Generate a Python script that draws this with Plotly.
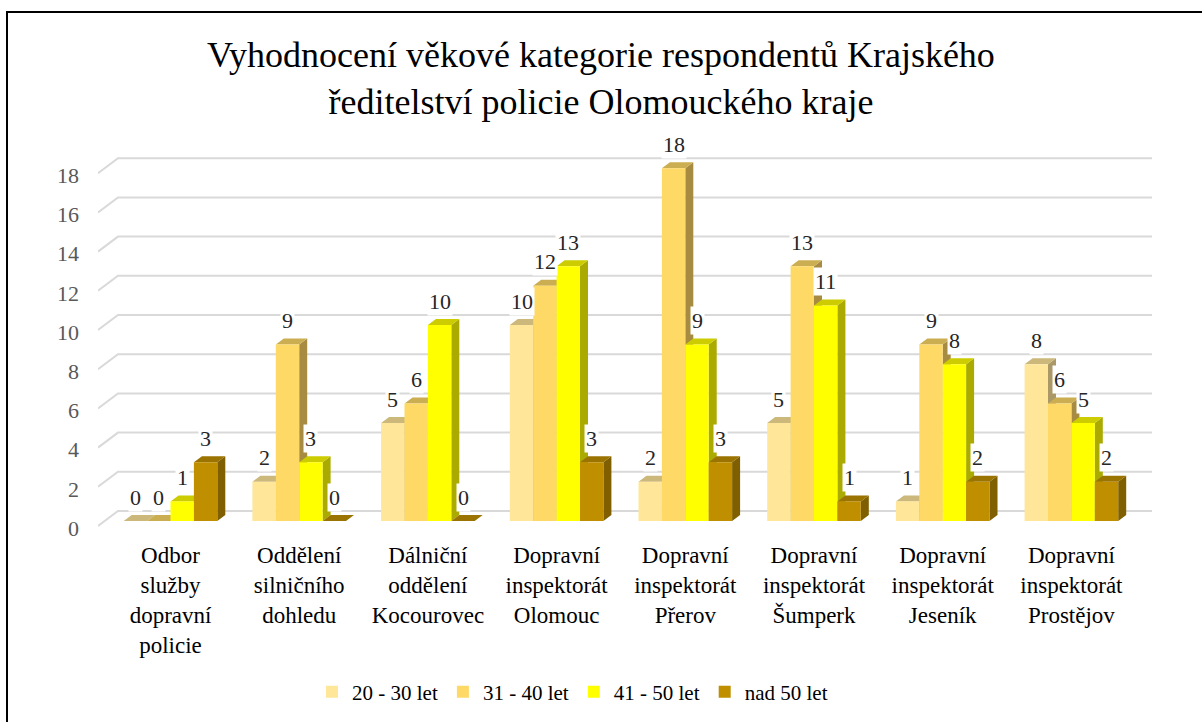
import plotly.graph_objects as go

# ---------------- data ----------------
categories = [
    "Odbor<br>služby<br>dopravní<br>policie",
    "Oddělení<br>silničního<br>dohledu",
    "Dálniční<br>oddělení<br>Kocourovec",
    "Dopravní<br>inspektorát<br>Olomouc",
    "Dopravní<br>inspektorát<br>Přerov",
    "Dopravní<br>inspektorát<br>Šumperk",
    "Dopravní<br>inspektorát<br>Jeseník",
    "Dopravní<br>inspektorát<br>Prostějov",
]
series_names = ["20 - 30 let", "31 - 40 let", "41 - 50 let", "nad 50 let"]
age_20_30 = [0, 2, 5, 10, 2, 5, 1, 8]
age_31_40 = [0, 9, 6, 12, 18, 13, 9, 6]
age_41_50 = [1, 3, 10, 13, 9, 11, 8, 5]
age_over_50 = [3, 0, 0, 3, 3, 1, 2, 2]
series_values = [age_20_30, age_31_40, age_41_50, age_over_50]
y_ticks = [0, 2, 4, 6, 8, 10, 12, 14, 16, 18]

title_text = ("Vyhodnocení věkové kategorie respondentů Krajského<br>"
              "ředitelství policie Olomouckého kraje")

# ---------------- styles ----------------
front_colors = ["#FFE699", "#FFD966", "#FFFF00", "#BF8F00"]
top_colors = ["#CCB87A", "#CCAE52", "#CCCC00", "#9A7300"]
side_colors = ["#AA9966", "#A68B40", "#AAAA00", "#7F5F00"]
FONT = "Liberation Serif, Times New Roman, serif"

W, H = 1202, 722
L, R, T, B = 98, 50, 140, 187          # plot area margins (px)
plot_w = W - L - R
plot_h = H - T - B
px_per_cat = 128.7
first_center_px = 170.5
px_per_unit = 19.6
zero_px = 521

x0 = (L - first_center_px) / px_per_cat
x1 = (W - R - first_center_px) / px_per_cat
y0 = (zero_px - (H - B)) / px_per_unit
y1 = (zero_px - T) / px_per_unit

bar_w = 23.4 / px_per_cat
depth_dx = 8 / px_per_cat
depth_dy = 6 / px_per_unit

fig = go.Figure()

# ---------------- gridlines (3D wall style) ----------------
gx, gy = [], []
grid_back_dx = 20 / px_per_cat
for v in y_ticks:
    gx += [x0, x0 + grid_back_dx, x1, None]
    gy += [v - 5 / px_per_unit, v + 10 / px_per_unit, v + 10 / px_per_unit, None]
fig.add_trace(go.Scatter(x=gx, y=gy, mode="lines",
                         line=dict(color="#D9D9D9", width=2),
                         hoverinfo="skip", showlegend=False))

# ---------------- top and side faces ----------------
for j, vals in enumerate(series_values):
    off = (j - 2) * bar_w
    tx, ty, sx, sy = [], [], [], []
    for i, v in enumerate(vals):
        a = i + off
        b = a + bar_w
        tx += [a, b, b + depth_dx, a + depth_dx, a, None]
        ty += [v, v, v + depth_dy, v + depth_dy, v, None]
        sx += [b, b, b + depth_dx, b + depth_dx, b, None]
        sy += [0, v, v + depth_dy, depth_dy, 0, None]
    fig.add_trace(go.Scatter(x=sx, y=sy, mode="lines", fill="toself",
                             fillcolor=side_colors[j], line=dict(width=0, color=side_colors[j]),
                             hoverinfo="skip", showlegend=False))
    fig.add_trace(go.Scatter(x=tx, y=ty, mode="lines", fill="toself",
                             fillcolor=top_colors[j], line=dict(width=0, color=top_colors[j]),
                             hoverinfo="skip", showlegend=False))

# ---------------- front faces (bars) ----------------
for j, vals in enumerate(series_values):
    fig.add_trace(go.Bar(
        x=list(range(len(categories))), y=vals, name=series_names[j],
        width=bar_w, offset=(j - 2) * bar_w,
        marker=dict(color=front_colors[j], line=dict(width=0)),
        xaxis="x2", yaxis="y2",
    ))

# ---------------- data labels ----------------
for j, vals in enumerate(series_values):
    for i, v in enumerate(vals):
        fig.add_annotation(
            x=i + (j - 1.5) * bar_w, y=v, xref="x", yref="y",
            text=str(v), showarrow=False, yshift=24,
            font=dict(family=FONT, size=22, color="#262626"),
            bgcolor="white", borderpad=1,
        )

# ---------------- frame ----------------
fig.add_shape(type="rect", xref="paper", yref="paper",
              x0=(7 - L) / plot_w, x1=(1215 - L) / plot_w,
              y0=((H - B) - 740) / plot_h, y1=((H - B) - 12) / plot_h,
              line=dict(color="black", width=2), fillcolor="rgba(0,0,0,0)", layer="above")

fig.update_layout(
    width=W, height=H,
    margin=dict(l=L, r=R, t=T, b=B, autoexpand=False),
    paper_bgcolor="white", plot_bgcolor="white",
    barmode="overlay",
    font=dict(family=FONT, color="black"),
    title=dict(text=title_text, x=0.5, xanchor="center", xref="container",
               y=1 - 67 / H, yanchor="top", yref="container",
               font=dict(family=FONT, size=36, color="black")),
    xaxis=dict(range=[x0, x1], tickmode="array", tickvals=list(range(len(categories))),
               ticktext=categories, showgrid=False, zeroline=False, showline=False,
               ticks="", tickfont=dict(family=FONT, size=23, color="black"),
               ticklabelstandoff=4, fixedrange=True),
    xaxis2=dict(range=[x0, x1], overlaying="x", visible=False, fixedrange=True),
    yaxis=dict(range=[y0, y1], tickmode="array", tickvals=y_ticks,
               showgrid=False, zeroline=False, showline=False, ticks="",
               tickfont=dict(family=FONT, size=22, color="#595959"),
               ticklabelstandoff=18, ticklabelshift=7, fixedrange=True),
    yaxis2=dict(range=[y0, y1], overlaying="y", visible=False, fixedrange=True),
    legend=dict(orientation="h", x=(312 - L) / plot_w, xanchor="left",
                y=((H - B) - 692) / plot_h, yanchor="middle",
                font=dict(family=FONT, size=21, color="black"),
                traceorder="normal", itemclick=False, itemdoubleclick=False),
    showlegend=True,
)

fig.write_html("out.html", config={"displayModeBar": False},
               post_script="document.body.style.margin='0px';")
